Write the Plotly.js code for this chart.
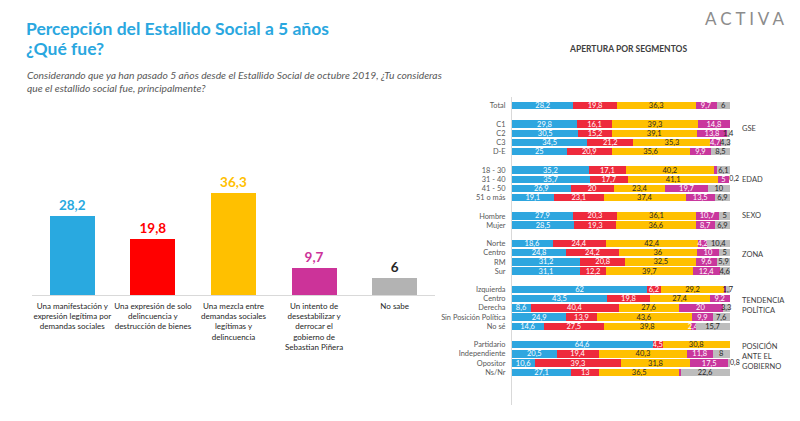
<!DOCTYPE html>
<html>
<head>
<meta charset="utf-8">
<script src="https://cdn.plot.ly/plotly-3.0.1.min.js"></script>
<style>html,body{margin:0;padding:0;background:#fff;}#chart{width:800px;height:421px;}</style>
</head>
<body>
<div id="chart"></div>
<script>
// ---------- DATA ----------
const seriesNames = [
  'Una manifestación y<br>expresión legítima por<br>demandas sociales',
  'Una expresión de solo<br>delincuencia y<br>destrucción de bienes',
  'Una mezcla entre<br>demandas sociales<br>legítimas y<br>delincuencia',
  'Un intento de<br>desestabilizar y<br>derrocar el<br>gobierno de<br>Sebastian Piñera',
  'No sabe'
];
const rowLabels = ['Total','C1','C2','C3','D-E','18 - 30','31 - 40','41 - 50','51 o más','Hombre','Mujer',
  'Norte','Centro','RM','Sur','Izquierda','Centro','Derecha','Sin Posición Política','No sé',
  'Partidario','Independiente','Opositor','Ns/Nr'];
const rowGroups = ['Total','GSE','GSE','GSE','GSE','EDAD','EDAD','EDAD','EDAD','SEXO','SEXO',
  'ZONA','ZONA','ZONA','ZONA','TP','TP','TP','TP','TP','PG','PG','PG','PG'];
const legitima     = [28.2,29.8,30.5,34.5,25,35.2,35.7,26.9,19.1,27.9,28.5,18.6,24.8,31.2,31.1,62,43.5,8.6,24.9,14.6,64.6,20.5,10.6,27.1];
const delincuencia = [19.8,16.1,15.2,21.2,20.9,17.1,17.7,20,23.1,20.3,19.3,24.4,24.2,20.8,12.2,6.2,19.8,40.4,13.9,27.5,4.5,19.4,39.3,13];
const mezcla       = [36.3,39.3,39.1,35.3,35.6,40.2,41.1,23.4,37.4,36.1,36.6,42.4,36,32.5,39.7,29.2,27.4,27.6,43.6,39.8,30.8,40.3,31.8,36.5];
const intento      = [9.7,14.8,13.8,4.7,9.9,1.4,5,19.7,13.5,10.7,8.7,4.2,10,9.6,12.4,0.9,9.2,20,9.9,2.4,0.1,11.8,17.5,0.8];
const noSabe       = [6,0,1.4,4.3,8.5,6.1,0.2,10,6.9,5,6.9,10.4,5,5.9,4.6,1.7,0,3.3,7.6,15.7,0,8,0.8,22.6];

// ---------- STYLE ----------
const FONT = 'Lato, "Open Sans", sans-serif';
const colorsLeft  = ['#29a9e0','#ff0000','#ffc000','#cc3399','#b3b3b3'];
const labelLeft   = ['#29a9e0','#ff0000','#ffc000','#cc3399','#262626'];
const colorsRight = ['#2ea6df','#ee2a3c','#ffc000','#c9379d','#bdbdbd'];
const textRight   = ['#ffffff','#ffffff','#262626','#ffffff','#262626'];
const fmt = v => String(v).replace('.', ',');

// y slots for right chart: one blank slot between groups
const ySlots = [];
let s = 0;
rowGroups.forEach((g, i) => { if (i > 0 && g !== rowGroups[i-1]) s += 1; ySlots.push(s); s += 1; });
const slotOf = i => ySlots[i];

const allSeries = [legitima, delincuencia, mezcla, intento, noSabe];
const totals = allSeries.map(a => a[0]);
const rowSums = rowLabels.map((_, i) => allSeries.reduce((t, a) => t + a[i], 0));

const traces = [];
// left chart
traces.push({
  type: 'bar', x: seriesNames, y: totals, xaxis: 'x', yaxis: 'y',
  marker: {color: colorsLeft}, width: 0.56,
  text: totals.map(fmt), textposition: 'outside', textangle: 0, cliponaxis: false,
  textfont: {family: FONT, size: 13.5, color: labelLeft, weight: 700},
  hoverinfo: 'skip', showlegend: false
});
// right chart
allSeries.forEach((arr, k) => {
  const last = k === allSeries.length - 1;
  traces.push({
    type: 'bar', orientation: 'h', x: arr, y: ySlots, xaxis: 'x2', yaxis: 'y2',
    marker: {color: colorsRight[k]}, width: 0.8,
    text: arr.map(v => (v <= 0 || (k === 3 && v < 2) || (last && v < 1)) ? '' : fmt(v)),
    textposition: 'inside', insidetextanchor: 'middle', textangle: 0, constraintext: 'none', cliponaxis: false,
    textfont: {family: FONT, size: 7.5, color: textRight[k]},
    hoverinfo: 'skip', showlegend: false
  });
});
// labels of very thin "No sabe" segments, written just past the bar end
const tinyIdx = noSabe.map((v, i) => i).filter(i => noSabe[i] > 0 && noSabe[i] < 1);
traces.push({
  type: 'scatter', mode: 'text', xaxis: 'x2', yaxis: 'y2', cliponaxis: false,
  x: tinyIdx.map(i => rowSums[i]), y: tinyIdx.map(i => ySlots[i]),
  text: tinyIdx.map(i => fmt(noSabe[i])), textposition: 'middle right',
  textfont: {family: FONT, size: 7, color: '#262626'}, hoverinfo: 'skip', showlegend: false
});

const H = 421, W = 800;
const py = p => 1 - p / H;   // pixel y -> paper
const px = p => p / W;

const slotPx = 9.19, slot0 = 105.7;
const yTop = 97, yBot = 405;
const xMax = 101;

const groupLabels = [
  {t: 'GSE', y: 2.5}, {t: 'EDAD', y: slotOf(6)}, {t: 'SEXO', y: slotOf(9)},
  {t: 'ZONA', y: slotOf(12)+0.2}, {t: 'TENDENCIA<br>POLÍTICA', y: slotOf(16)+0.7},
  {t: 'POSICIÓN<br>ANTE EL<br>GOBIERNO', y: slotOf(21)+0.2}
];

const annotations = [
  {xref:'paper', yref:'paper', x: px(24), y: py(28), xanchor:'left', yanchor:'middle', showarrow:false,
   text:'<b>Percepción del Estallido Social a 5 años</b>', font:{family:FONT, size:17.5, color:'#2aa7df'}},
  {xref:'paper', yref:'paper', x: px(24), y: py(48), xanchor:'left', yanchor:'middle', showarrow:false,
   text:'<b>¿Qué fue?</b>', font:{family:FONT, size:17.5, color:'#2aa7df'}},
  {xref:'paper', yref:'paper', x: px(25), y: py(81.5), xanchor:'left', yanchor:'middle', showarrow:false, align:'left',
   text:'<i>Considerando que ya han pasado 5 años desde el Estallido Social de octubre 2019, ¿Tu consideras<br>que el estallido social fue, principalmente?</i>',
   font:{family:FONT, size:10.3, color:'#595959'}},
  {xref:'paper', yref:'paper', x: px(567), y: py(49), xanchor:'left', yanchor:'middle', showarrow:false,
   text:'<b>APERTURA POR SEGMENTOS</b>', font:{family:FONT, size:8.5, color:'#404040'}},
  {xref:'paper', yref:'paper', x: px(787), y: py(18), xanchor:'right', yanchor:'middle', showarrow:false,
   text:'A C T I V A', font:{family:FONT, size:17, color:'#8c8c8c'}}
];
groupLabels.forEach(g => annotations.push({
  xref:'paper', yref:'y2', x: px(740), y: g.y, xanchor:'left', yanchor:'middle', showarrow:false, align:'left',
  text: g.t, font:{family:FONT, size:7.5, color:'#404040'}
}));

const layout = {
  width: W, height: H, margin: {l:0, r:0, t:0, b:0},
  paper_bgcolor: '#fff', plot_bgcolor: 'rgba(0,0,0,0)',
  barmode: 'stack', showlegend: false,
  font: {family: FONT},
  xaxis: {domain: [px(32), px(435)], showline: true, linecolor: '#d9d9d9', linewidth: 1,
          ticks: '', showgrid: false, zeroline: false, ticklabelstandoff: 3,
          tickfont: {family: FONT, size: 8, color: '#262626'}, fixedrange: true},
  yaxis: {domain: [py(295), py(150)], range: [0, 145/2.81], visible: false, fixedrange: true},
  xaxis2: {domain: [px(512), px(512 + 2.18 * xMax)], range: [0, xMax], visible: false, anchor: 'y2'},
  yaxis2: {domain: [py(yBot), py(yTop)], anchor: 'x2',
           range: [(yBot - slot0)/slotPx, (yTop - slot0)/slotPx],
           tickvals: ySlots, ticktext: rowLabels, showline: true, linecolor: '#d9d9d9',
           ticks: 'outside', ticklen: 4, tickcolor: 'rgba(0,0,0,0)', showgrid: false, zeroline: false,
           tickfont: {family: FONT, size: 7.4, color: '#595959'}},
  annotations: annotations
};

Plotly.newPlot('chart', traces, layout, {displayModeBar: false, staticPlot: true});
</script>
</body>
</html>
